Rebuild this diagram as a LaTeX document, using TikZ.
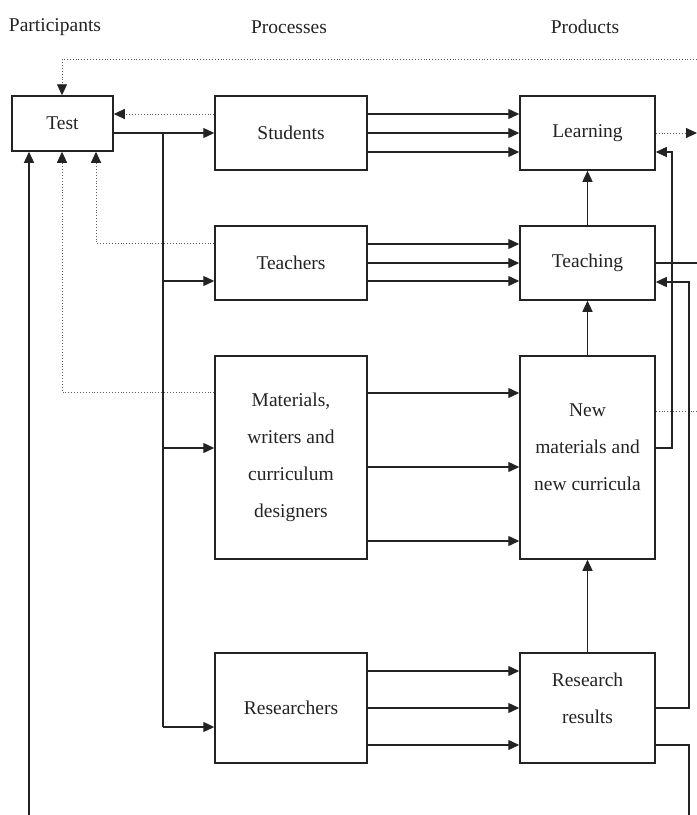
\documentclass[tikz,border=0pt]{standalone}
\usepackage{fontspec}
\setmainfont{Liberation Serif}
\usetikzlibrary{arrows.meta,calc}
\definecolor{ink}{RGB}{35,35,35}
\definecolor{dotc}{RGB}{95,95,95}
\begin{document}
\begin{tikzpicture}[x=1pt,y=-1pt,
  every node/.style={font=\fontsize{19.5}{37}\selectfont, text=ink},
  box/.style={draw=ink, line width=1.5pt, inner sep=0pt, align=center},
  hdr/.style={inner sep=0pt},
  ln/.style={draw=ink, line width=1.3pt},
  arr/.style={ln, -{Triangle[length=11pt,width=10pt]}},
  dot/.style={draw=dotc, line width=0.9pt, dotted},
  darr/.style={dot, -{Triangle[length=11pt,width=10pt,fill=ink,color=ink]}}]
\useasboundingbox (0,0) rectangle (697,815);
% headers
\node[hdr] (h1) at (55,27) {Participants};
\node[hdr] (h2) at (289,27) {Processes};
\node[hdr] (h3) at (585,27) {Products};
% boxes
\node[box, minimum width=101pt, minimum height=55pt] (test) at (62.5,123.5) {Test};
\node[box, minimum width=152pt, minimum height=74pt] (students) at (291,133) {Students};
\node[box, minimum width=152pt, minimum height=74pt] (teachers) at (291,263) {Teachers};
\node[box, minimum width=152pt, minimum height=203pt] (materials) at (291,457.5) {Materials,\\writers and\\curriculum\\designers};
\node[box, minimum width=152pt, minimum height=110pt] (researchers) at (291,708) {Researchers};
\node[box, minimum width=135pt, minimum height=74pt] (learning) at (587.5,133) {Learning};
\node[box, minimum width=135pt, minimum height=74pt] (teaching) at (587.5,263) {Teaching};
\node[box, minimum width=135pt, minimum height=203pt] (newmat) at (587.5,457.5) {};
\node[inner sep=0pt, align=center] (newmattxt) at (587.5,447) {New\\materials and\\new curricula};
\node[box, minimum width=135pt, minimum height=110pt] (results) at (587.5,708) {};
\node[inner sep=0pt, align=center] (resultstxt) at (587.5,698) {Research\\results};
% level coordinates
\coordinate (busTop) at (163,133);
\coordinate (b1) at (163,281);
\coordinate (b2) at (163,448);
\coordinate (b3) at (163,727);
% test -> students and bus
\draw[arr] (test.east |- students.west) -- (students.west);
\draw[ln] (busTop) -- (b3);
\draw[arr] (b1) -- (b1 -| teachers.west);
\draw[arr] (b2) -- (b2 -| materials.west);
\draw[arr] (b3) -- (b3 -| researchers.west);
% process -> product arrows
\foreach \y in {114,133,152} \draw[arr] (students.east |- 0,\y) -- (learning.west |- 0,\y);
\foreach \y in {244,263,281} \draw[arr] (teachers.east |- 0,\y) -- (teaching.west |- 0,\y);
\foreach \y in {393,467,541} \draw[arr] (materials.east |- 0,\y) -- (newmat.west |- 0,\y);
\foreach \y in {671,708,745} \draw[arr] (researchers.east |- 0,\y) -- (results.west |- 0,\y);
% vertical product arrows
\draw[arr] (teaching.north) -- (learning.south);
\draw[arr] (newmat.north) -- (teaching.south);
\draw[arr] (results.north) -- (newmat.south);
% right side
\coordinate (outL) at (697,133);
\coordinate (outT) at (697,263);
\coordinate (outN) at (697,411);
\coordinate (topR) at (697,59);
\coordinate (botR) at (689,815);
\coordinate (botL) at (29,815);
\draw[darr] (learning.east |- outL) -- (outL);
\draw[ln] (teaching.east |- outT) -- (outT);
\draw[dot] (newmat.east |- outN) -- (outN);
\draw[arr] (newmat.east |- 0,448) -- (672,448) -- (672,152) -- (learning.east |- 0,152);
\draw[arr] (results.east) -- (689,708) -- (689,282) -- (teaching.east |- 0,282);
\draw[ln] (results.east |- 0,745) -- (689,745) -- (botR);
% feedback to test
\draw[darr] (topR) -- (62,59) -- (test.north -| 62,0);
\draw[darr] (students.west |- 0,114) -- (test.east |- 0,114);
\draw[darr] (teachers.west |- 0,243) -- (96,243) -- (test.south -| 96,0);
\draw[darr] (materials.west |- 0,392) -- (62,392) -- (test.south -| 62,0);
\draw[arr] (botL) -- (test.south -| 29,0);
\end{tikzpicture}
\end{document}
